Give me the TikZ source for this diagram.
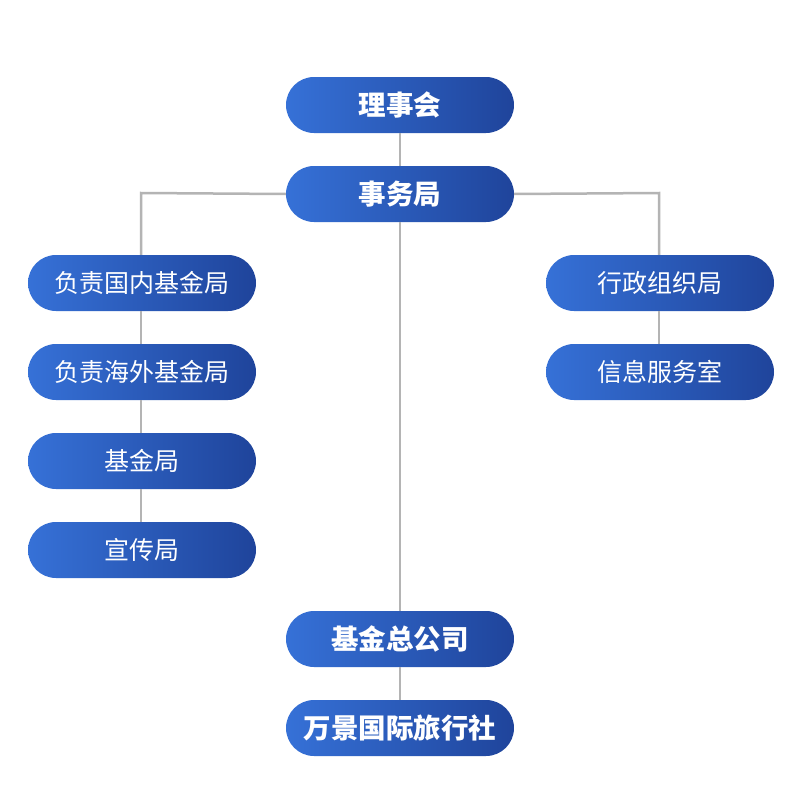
\documentclass[tikz,border=0pt]{standalone}
\usepackage{fontspec}
\newfontfamily\cjk{Noto Sans CJK SC}
\definecolor{gl}{HTML}{3671D7}
\definecolor{gr}{HTML}{1F449B}
\definecolor{ln}{HTML}{B4B4B4}
\tikzset{
  box/.style={rounded corners=28pt, minimum width=228pt, minimum height=56pt, inner sep=0pt,
    left color=gl, right color=gr, text=white, font=\cjk\fontsize{25}{25}\selectfont},
  boldbox/.style={box, font=\cjk\bfseries\fontsize{27.5}{27.5}\selectfont},
  conn/.style={draw=ln, line width=2.5pt}
}
\begin{document}
\begin{tikzpicture}[x=1pt,y=-1pt]
\useasboundingbox (0,0) rectangle (800,800);
\fill[white] (0,0) rectangle (800,800);
\coordinate (lt) at (141,193);
\coordinate (rt) at (659,193);
\node[boldbox] (a) at (400,105) {理事会};
\node[boldbox] (b) at (400,194) {事务局};
\node[box] (l1) at (142,283) {负责国内基金局};
\node[box] (l2) at (142,372) {负责海外基金局};
\node[box] (l3) at (142,461) {基金局};
\node[box] (l4) at (142,550) {宣传局};
\node[box] (r1) at (660,283) {行政组织局};
\node[box] (r2) at (660,372) {信息服务室};
\node[boldbox] (c) at (400,639) {基金总公司};
\node[boldbox] (d) at (400,728) {万景国际旅行社};
\draw[conn] (a.south) -- (b.north);
\draw[conn] (b.west) -- (lt) -- (l1.north -| lt);
\draw[conn] (b.east) -- (rt) -- (r1.north -| rt);
\draw[conn] (l1.south -| lt) -- (l2.north -| lt);
\draw[conn] (l2.south -| lt) -- (l3.north -| lt);
\draw[conn] (l3.south -| lt) -- (l4.north -| lt);
\draw[conn] (r1.south -| rt) -- (r2.north -| rt);
\draw[conn] (b.south) -- (c.north);
\draw[conn] (c.south) -- (d.north);
\end{tikzpicture}
\end{document}
